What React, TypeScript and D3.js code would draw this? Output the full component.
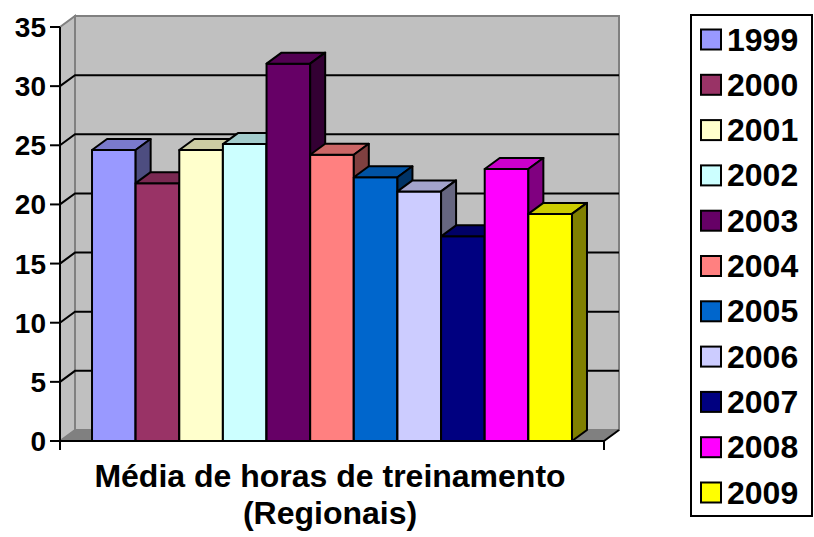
import * as d3 from 'd3';

// dados do gráfico
const category = 'Média de horas de treinamento';
const years = ['1999', '2000', '2001', '2002', '2003', '2004', '2005', '2006', '2007', '2008', '2009'];
const values = [24.6, 21.8, 24.6, 25.1, 31.9, 24.2, 22.3, 21.1, 17.3, 23.0, 19.2];
const colors = ['#9999FF', '#993366', '#FFFFCC', '#CCFFFF', '#660066', '#FF8080', '#0066CC', '#CCCCFF', '#000080', '#FF00FF', '#FFFF00'];
const yTicks = [0, 5, 10, 15, 20, 25, 30, 35];

const W = 814;
const H = 537;
// deslocamento da profundidade 3D
const DX = 15;
const DY = -11;
const FONT = '"Liberation Sans", Arial, sans-serif';

const shade = (c: string, k: number) => {
  const r = d3.rgb(c);
  return d3.rgb(r.r * k, r.g * k, r.b * k).formatHex();
};

const pts = (p: [number, number][]) => p.map(d => d.join(',')).join(' ');

export default function App() {
  const y = d3.scaleLinear().domain([0, 35]).range([441, 27]);
  const x0 = d3.scaleBand<string>().domain([category]).range([60, 604]).paddingOuter(0.0667);
  const x1 = d3.scaleBand<string>().domain(years).range([0, x0.bandwidth()]);
  const legendY = d3.scaleBand<string>().domain(years).range([29.5, 29.5 + 11 * 45.3]);

  const left = 60;
  const right = 604;
  const y0 = y(0);
  const yTop = y(35);

  return (
    <svg width={W} height={H} style={{ position: 'absolute', left: 0, top: 0, background: '#fff' }}>
      {/* parede do fundo */}
      <rect x={left + DX} y={yTop + DY} width={right - left} height={y0 - yTop}
        fill="#c0c0c0" stroke="#808080" strokeWidth={2} />
      {/* parede lateral */}
      <polygon points={pts([[left, yTop], [left + DX, yTop + DY], [left + DX, y0 + DY], [left, y0]])}
        fill="#c0c0c0" stroke="#808080" strokeWidth={2} />
      {/* piso */}
      <polygon points={pts([[left, y0], [right, y0], [right + DX, y0 + DY], [left + DX, y0 + DY]])}
        fill="#808080" stroke="#808080" strokeWidth={1} />
      <line x1={right} y1={y0} x2={right + DX} y2={y0 + DY} stroke="#000" strokeWidth={2} />

      {/* linhas de grade */}
      {yTicks.filter(t => t > 0 && t < 35).map(t => (
        <g key={t}>
          <polyline points={pts([[left, y(t)], [left + DX, y(t) + DY], [right + DX, y(t) + DY]])}
            fill="none" stroke="#000" strokeWidth={2} />
        </g>
      ))}

      {/* barras */}
      {years.map((yr, i) => {
        const bx = (x0(category) as number) + (x1(yr) as number);
        const bw = x1.bandwidth();
        const top = y(values[i]);
        return (
          <g key={yr} stroke="#000" strokeWidth={2} strokeLinejoin="round">
            <rect x={bx} y={top} width={bw} height={y0 - top} fill={colors[i]} />
            <polygon points={pts([[bx, top], [bx + bw, top], [bx + bw + DX, top + DY], [bx + DX, top + DY]])}
              fill={shade(colors[i], 0.8)} />
            <polygon points={pts([[bx + bw, top], [bx + bw + DX, top + DY], [bx + bw + DX, y0 + DY], [bx + bw, y0]])}
              fill={shade(colors[i], 0.5)} />
          </g>
        );
      })}

      {/* eixos */}
      <line x1={left} y1={yTop} x2={left} y2={y0} stroke="#000" strokeWidth={2} />
      <line x1={left} y1={y0} x2={right} y2={y0} stroke="#000" strokeWidth={2} />
      <line x1={left} y1={y0} x2={left} y2={y0 + 9} stroke="#000" strokeWidth={2} />
      <line x1={right} y1={y0} x2={right} y2={y0 + 9} stroke="#000" strokeWidth={2} />
      {yTicks.map(t => (
        <g key={t}>
          <line x1={left - 10} y1={y(t)} x2={left} y2={y(t)} stroke="#000" strokeWidth={2} />
          <text x={46} y={y(t) + 10} textAnchor="end" fontFamily={FONT} fontWeight="bold" fontSize={28} fill="#000">
            {t}
          </text>
        </g>
      ))}

      {/* título do eixo */}
      <text x={330} y={487} textAnchor="middle" fontFamily={FONT} fontWeight="bold" fontSize={32} fill="#000">
        {category}
      </text>
      <text x={330} y={524} textAnchor="middle" fontFamily={FONT} fontWeight="bold" fontSize={32} fill="#000">
        (Regionais)
      </text>

      {/* legenda */}
      <rect x={691} y={15} width={121} height={501} fill="#fff" stroke="#000" strokeWidth={2} />
      {years.map((yr, i) => {
        const ly = legendY(yr) as number;
        return (
          <g key={yr}>
            <rect x={701} y={ly} width={20} height={20} fill={colors[i]} stroke="#000" strokeWidth={2} />
            <text x={727} y={ly + 21} fontFamily={FONT} fontWeight="bold" fontSize={32} fill="#000">
              {yr}
            </text>
          </g>
        );
      })}
    </svg>
  );
}
